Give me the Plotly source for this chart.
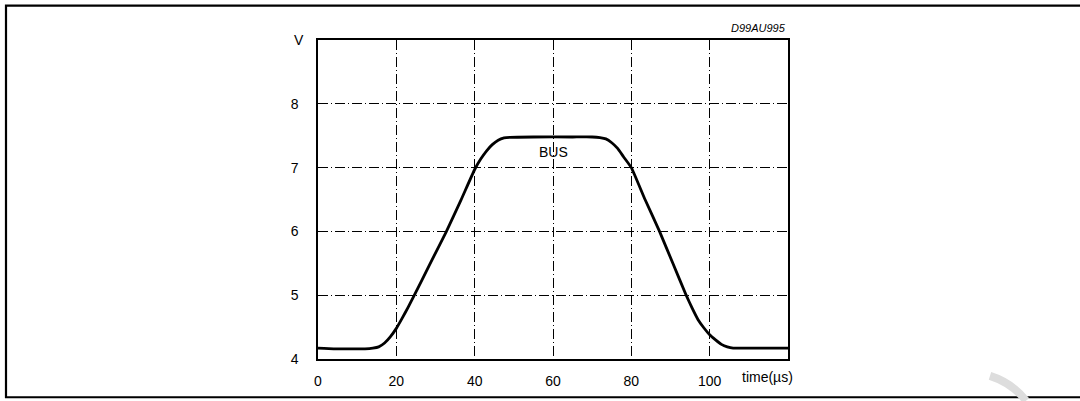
import plotly.graph_objects as go

# ---- data ----
time_us = [0, 4, 8, 12, 14, 15.5, 17, 18.5, 20, 21.5, 23, 24.6, 28.5, 32.7, 36.5, 40.0,
           41.5, 43, 44.5, 46, 47.5, 49, 55, 65, 70, 72, 73.5, 75, 76.5, 78, 80, 83.5,
           87.2, 90.6, 94, 95.5, 97, 98.5, 100, 101.5, 103, 104.5, 106, 110, 120]
bus_v = [4.17, 4.16, 4.16, 4.16, 4.17, 4.19, 4.25, 4.35, 4.48, 4.64, 4.81, 5.0, 5.48, 5.99,
         6.49, 6.97, 7.13, 7.26, 7.36, 7.43, 7.465, 7.475, 7.48, 7.48, 7.48, 7.47, 7.45,
         7.39, 7.3, 7.17, 7.0, 6.5, 6.0, 5.5, 5.0, 4.8, 4.62, 4.49, 4.38, 4.3, 4.23, 4.19,
         4.17, 4.17, 4.17]
x_ticks = [0, 20, 40, 60, 80, 100]
y_ticks = [4, 5, 6, 7, 8]
x_unit_label = "time(µs)"
y_unit_label = "V"
series_label = "BUS"
figure_code = "D99AU995"

W, H = 1080, 401
L, R, T, B = 318, 292, 40, 40
pw, ph = W - L - R, H - T - B

def px_x(p):
    return (p - L) / pw

def px_y(p):
    return (H - B - p) / ph

fig = go.Figure()
fig.add_trace(go.Scatter(x=time_us, y=bus_v, mode="lines",
                         line=dict(color="black", width=2.8, shape="spline", smoothing=0.4),
                         hoverinfo="skip", showlegend=False))

axis_font = dict(family="Liberation Sans, Arial, sans-serif", size=14, color="black")
grid_dash = "10px,3px,1px,3px"

fig.update_xaxes(range=[0, 120], tickvals=x_ticks, ticktext=[str(v) for v in x_ticks],
                 showgrid=True, gridcolor="black", gridwidth=0.8, griddash=grid_dash,
                 showline=True, linecolor="black", linewidth=1.5, mirror=True,
                 ticks="", tickfont=axis_font, zeroline=False, ticklabelstandoff=8)
fig.update_yaxes(range=[4, 9], tickvals=y_ticks, ticktext=[str(v) for v in y_ticks],
                 showgrid=True, gridcolor="black", gridwidth=0.8, griddash=grid_dash,
                 showline=True, linecolor="black", linewidth=1.5, mirror=True,
                 ticks="", tickfont=axis_font, zeroline=False, ticklabelstandoff=15)

annotations = [
    dict(x=114.7, y=4, xref="x", yref="y", text=x_unit_label, showarrow=False,
         yanchor="top", yshift=-8, font=axis_font),
    dict(x=px_x(299), y=9, xref="paper", yref="y", text=y_unit_label, showarrow=False,
         xanchor="center", yanchor="middle", font=axis_font),
    dict(x=60, y=7.24, xref="x", yref="y", text=series_label, showarrow=False,
         xanchor="center", yanchor="middle", font=axis_font),
    dict(x=1, y=px_y(28), xref="paper", yref="paper", text="<i>" + figure_code + "</i>",
         showarrow=False, xanchor="right", yanchor="middle",
         font=dict(family="Liberation Sans, Arial, sans-serif", size=11, color="black")),
]

shapes = [
    # outer frame (left, top, bottom edges)
    dict(type="path", xref="paper", yref="paper",
         path=f"M {px_x(1095)} {px_y(5.5)} L {px_x(6)} {px_y(5.5)} L {px_x(6)} {px_y(399.5)} L {px_x(1095)} {px_y(399.5)}",
         line=dict(color="black", width=2.2)),
    # faint watermark arc fragment in the lower right corner
    dict(type="path", xref="paper", yref="paper",
         path=f"M {px_x(990)} {px_y(378)} Q {px_x(1012)} {px_y(385)} {px_x(1026)} {px_y(403)}",
         line=dict(color="#dddddd", width=8)),
]

fig.update_layout(width=W, height=H, margin=dict(l=L, r=R, t=T, b=B),
                  paper_bgcolor="white", plot_bgcolor="white",
                  annotations=annotations, shapes=shapes, showlegend=False)

fig.write_html("out.html", config={"displayModeBar": False},
               post_script="document.body.style.margin='0';document.body.style.overflow='hidden';")
